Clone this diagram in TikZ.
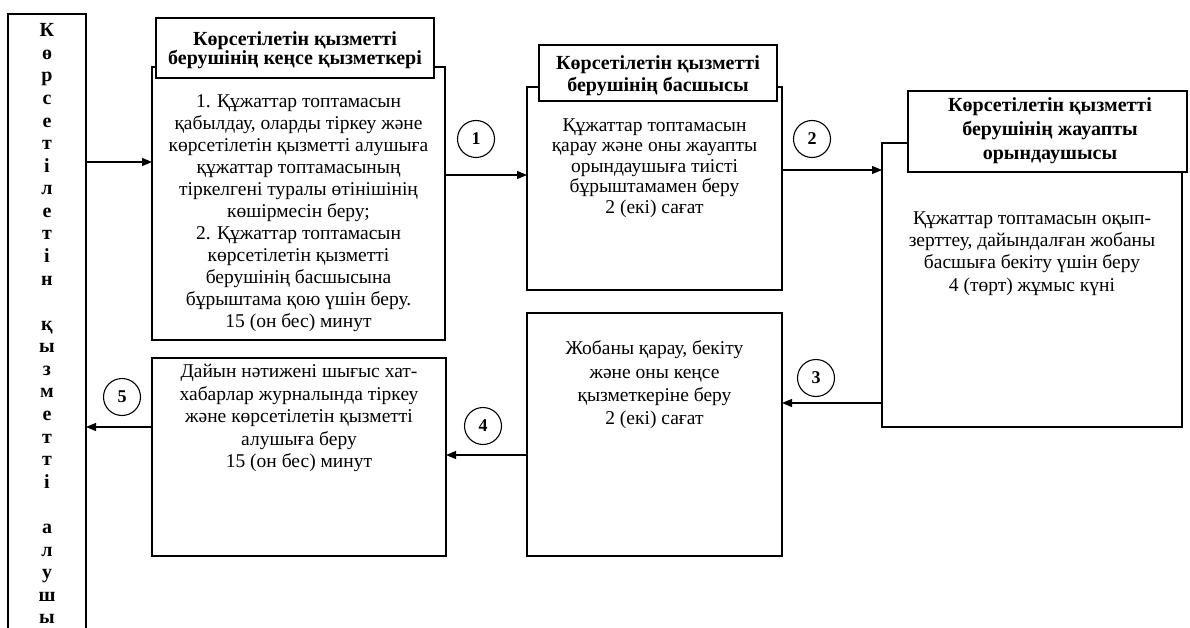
\documentclass[tikz,border=0pt]{standalone}
\usepackage{fontspec}
\setmainfont{Liberation Serif}
\usetikzlibrary{arrows.meta}
\tikzset{
 box/.style={draw=black,line width=1.1pt,inner sep=0pt,outer sep=0pt},
 hdr/.style={box,fill=white},
 txt/.style={align=center,inner sep=0pt,font=\fontsize{19.5}{#1}\selectfont},
 htxt/.style={align=center,inner sep=0pt,font=\bfseries\fontsize{20}{#1}\selectfont},
 num/.style={draw=black,circle,line width=1.1pt,minimum size=37pt,inner sep=0pt,font=\bfseries\fontsize{18}{18}\selectfont},
 arr/.style={line width=1.1pt,-{Triangle[length=10pt,width=8pt]}},
 letter/.style={anchor=base,inner sep=0pt,font=\bfseries\fontsize{20}{20}\selectfont}
}
\begin{document}
\begin{tikzpicture}[x=1pt,y=-1pt]
\useasboundingbox (0,0) rectangle (1190,628);
\clip (0,0) rectangle (1190,628);
% boxes
\node[box,minimum width=78pt,minimum height=626pt] (recv) at (47,327) {};
\node[box,minimum width=293pt,minimum height=273pt] (b1) at (298.5,203.5) {};
\node[box,minimum width=255pt,minimum height=203pt] (b2) at (654.5,188.5) {};
\node[box,minimum width=300pt,minimum height=284pt] (b3) at (1032,285) {};
\node[box,minimum width=255pt,minimum height=243pt] (b4) at (654.5,434.5) {};
\node[box,minimum width=294pt,minimum height=198pt] (b5) at (299,457) {};
% headers
\node[hdr,minimum width=278pt,minimum height=60pt] (h1) at (295,48) {};
\node[hdr,minimum width=238pt,minimum height=56pt] (h2) at (658,73) {};
\node[hdr,minimum width=279pt,minimum height=81pt] (h3) at (1047.5,131.5) {};
% header texts
\node[htxt=19pt] (h1t) at (295,50.5) {Көрсетілетін қызметті\\берушінің кеңсе қызметкері};
\node[htxt=22pt] (h2t) at (658,76) {Көрсетілетін қызметті\\берушінің басшысы};
\node[htxt=24pt] (h3t) at (1050,131) {Көрсетілетін қызметті\\берушінің жауапты\\орындаушысы};
% body texts
\node[txt=22pt] (b1t) at (298.5,213) {1. Құжаттар топтамасын\\қабылдау, оларды тіркеу және\\көрсетілетін қызметті алушыға\\құжаттар топтамасының\\тіркелгені туралы өтінішінің\\көшірмесін беру;\\2. Құжаттар топтамасын\\көрсетілетін қызметті\\берушінің басшысына\\бұрыштама қою үшін беру.\\15 (он бес) минут};
\node[txt=20.5pt] (b2t) at (654.5,168) {Құжаттар топтамасын\\қарау және оны жауапты\\орындаушыға тиісті\\бұрыштамамен беру\\2 (екі) сағат};
\node[txt=22.3pt] (b3t) at (1032,253.5) {Құжаттар топтамасын оқып-\\зерттеу, дайындалған жобаны\\басшыға бекіту үшін беру\\4 (төрт) жұмыс күні};
\node[txt=23.3pt] (b4t) at (654.5,385) {Жобаны қарау, бекіту\\және оны кеңсе\\қызметкеріне беру\\2 (екі) сағат};
\node[txt=22.5pt] (b5t) at (299,418) {Дайын нәтижені шығыс хат-\\хабарлар журналында тіркеу\\және көрсетілетін қызметті\\алушыға беру\\15 (он бес) минут};
% vertical letters
\foreach \i/\l in {0/К,1/ө,2/р,3/с,4/е,5/т,6/і,7/л,8/е,9/т,10/і,11/н,13/қ,14/ы,15/з,16/м,17/е,18/т,19/т,20/і,22/а,23/л,24/у,25/ш,26/ы}
  \node[letter] (L\i) at (47,{36.7+\i*22.58}) {\l};
% number circles
\node[num] (c1) at (476,139) {1};
\node[num] (c2) at (812,139) {2};
\node[num] (c3) at (816,378) {3};
\node[num] (c4) at (483,426) {4};
\node[num] (c5) at (122,397) {5};
% arrow levels
\coordinate (y0) at (0,162);
\coordinate (y1) at (0,175);
\coordinate (y2) at (0,170);
\coordinate (y3) at (0,403);
\coordinate (y4) at (0,455);
\coordinate (y5) at (0,427);
\draw[arr] (recv.east |- y0) -- (b1.west |- y0);
\draw[arr] (b1.east |- y1) -- (b2.west |- y1);
\draw[arr] (b2.east |- y2) -- (b3.west |- y2);
\draw[arr] (b3.west |- y3) -- (b4.east |- y3);
\draw[arr] (b4.west |- y4) -- (b5.east |- y4);
\draw[arr] (b5.west |- y5) -- (recv.east |- y5);
\end{tikzpicture}
\end{document}
